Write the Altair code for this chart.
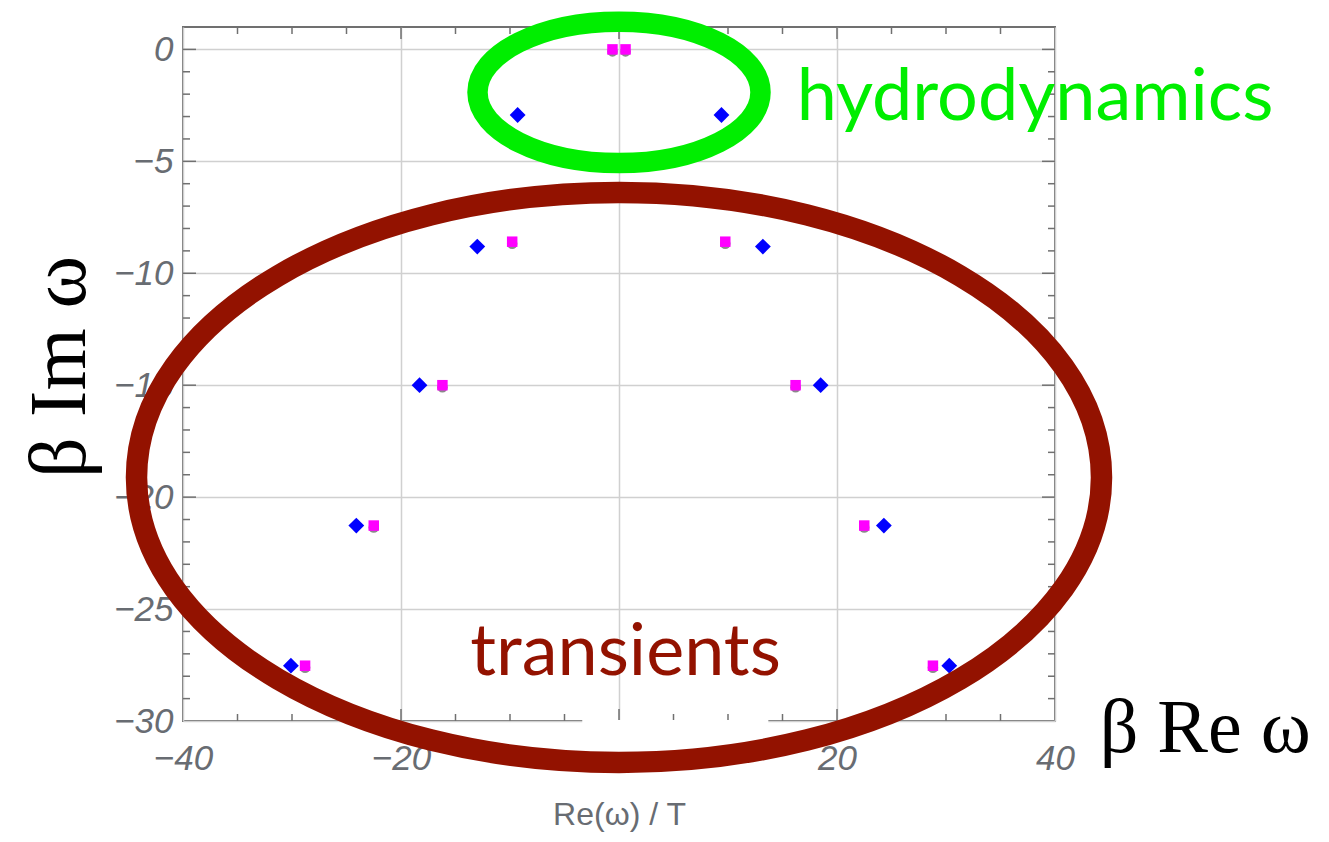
import altair as alt
import pandas as pd

# ---- data (Re(omega)/T, Im(omega)/T) ----
blue_re = [-9.3, 9.4, -13.0, 13.2, -18.3, 18.5, -24.1, 24.3, -30.1, 30.3]
blue_im = [-2.93, -2.93, -8.81, -8.81, -15.0, -15.0, -21.27, -21.27, -27.53, -27.53]
mag_re = [-0.6, 0.6, -9.8, 9.75, -16.2, 16.2, -22.5, 22.5, -28.8, 28.8]
mag_im = [0.0, 0.0, -8.59, -8.59, -15.0, -15.0, -21.27, -21.27, -27.53, -27.53]

x_labels = [-40, -20, 0, 20, 40]
y_labels = [-30, -25, -20, -15, -10, -5, 0]
x_major = [-20, 0, 20]
x_minor = [-35, -30, -25, -15, -10, -5, 5, 10, 15, 25, 30, 35]
y_major = [-25, -20, -15, -10, -5, 0]
y_minor = [v for v in range(-29, 0) if v % 5 != 0]

# annotations (data coordinates)
ann_text = ["hydrodynamics", "transients"]
ann_re = [16.3, 0.6]
ann_im = [-3.16, -27.93]
ann_color = ["#00ee00", "#931200"]
ann_align = ["left", "center"]

ell_re = [0.0, 0.0]
ell_im = [-1.92, -19.12]

# white patch pasted over the bottom frame in the original
patch_re = [-3.37, 13.7]
patch_im = [-29.96, -32.6]

W, H = 872, 694
FRAME = "#707070"
GRAY = "#686c72"

xs = alt.Scale(domain=[-40, 40], nice=False, zero=False)
ys = alt.Scale(domain=[-30, 1], nice=False, zero=False)

XAX = alt.Axis(values=x_labels, grid=True, ticks=False, domain=False,
               labelFont="Liberation Sans", labelFontSize=35, labelFontStyle="italic",
               labelColor=GRAY, labelPadding=20, labelFlush=False,
               title="Re(ω) / T", titleFont="Liberation Sans", titleFontSize=32,
               titleFontWeight="normal", titleColor=GRAY, titlePadding=23)
YAX = alt.Axis(values=y_labels, grid=True, ticks=False, domain=False,
               labelFont="Liberation Sans", labelFontSize=35, labelFontStyle="italic",
               labelColor=GRAY, labelPadding=10, labelFlush=False, title=None)


def X(field="re"):
    return alt.X(f"{field}:Q", scale=xs, axis=XAX)


def Y(field="im"):
    return alt.Y(f"{field}:Q", scale=ys, axis=YAX)


blue = pd.DataFrame({"re": blue_re, "im": blue_im})
mag = pd.DataFrame({"re": mag_re, "im": mag_im})

shadow = alt.Chart(mag).mark_point(filled=True, shape="circle", size=110, color="#8a8a8a", opacity=1).encode(
    x=X(), y=Y(), yOffset=alt.value(2))
mag_pts = alt.Chart(mag).mark_point(filled=True, shape="square", size=110, color="#ff00ff", opacity=1).encode(
    x=X(), y=Y())
blue_pts = alt.Chart(blue).mark_point(filled=True, shape="diamond", size=250, color="#0000ff", opacity=1).encode(
    x=X(), y=Y())


def xt(vals, length, top):
    df = pd.DataFrame({"re": vals})
    return alt.Chart(df).mark_rule(color=FRAME, strokeWidth=1.5).encode(
        x=X(), y=alt.value(0 if top else H), y2=alt.value(length if top else H - length))


def yt(vals, length, left):
    df = pd.DataFrame({"im": vals})
    return alt.Chart(df).mark_rule(color=FRAME, strokeWidth=1.5).encode(
        y=Y(), x=alt.value(0 if left else W), x2=alt.value(length if left else W - length))


ticks = [xt(x_major, 12, True), xt(x_minor, 7, True), xt(x_major, 12, False), xt(x_minor, 7, False),
         yt(y_major, 13, True), yt(y_minor, 7, True), yt(y_major, 13, False), yt(y_minor, 7, False)]

patch_df = pd.DataFrame({"re": [patch_re[0]], "re2": [patch_re[1]], "im": [patch_im[0]], "im2": [patch_im[1]]})
patch = alt.Chart(patch_df).mark_rect(color="white", opacity=1).encode(
    x=X(), x2="re2:Q", y=Y(), y2="im2:Q")


def ellipse(i, rx, ry, color, sw):
    df = pd.DataFrame({"re": [ell_re[i]], "im": [ell_im[i]]})
    k = ry / rx
    path = f"M -1 0 A 1 {k:.4f} 0 1 1 1 0 A 1 {k:.4f} 0 1 1 -1 0 Z"
    return alt.Chart(df).mark_point(shape=path, size=4 * rx * rx, filled=False, stroke=color,
                                    strokeWidth=sw, opacity=1).encode(x=X(), y=Y())


green_ell = ellipse(0, 141.5, 70.7, "#00ee00", 20.5)
red_ell = ellipse(1, 482.5, 285, "#931200", 21.5)

texts = []
for t, r, i, c, a in zip(ann_text, ann_re, ann_im, ann_color, ann_align):
    df = pd.DataFrame({"re": [r], "im": [i], "t": [t]})
    texts.append(alt.Chart(df).mark_text(font="Lato", fontSize=72, color=c, align=a,
                                         baseline="alphabetic").encode(
        x=X(), y=Y(), text="t:N"))

# LaTeX-like axis labels
lab = pd.DataFrame({"re": [-49.0], "im": [-14.18], "t": ["β Im ω"]})
ylab = alt.Chart(lab).mark_text(font="Liberation Serif", fontSize=80, color="black", angle=270,
                                align="center", baseline="alphabetic").encode(
    x=X(), y=Y(), text="t:N")
lab2 = pd.DataFrame({"re": [44.1], "im": [-31.4], "t": ["β Re ω"]})
xlab = alt.Chart(lab2).mark_text(font="Liberation Serif", fontSize=76, color="black",
                                 align="left", baseline="alphabetic").encode(
    x=X(), y=Y(), text="t:N")

chart = alt.layer(shadow, mag_pts, blue_pts, *ticks, patch, green_ell, red_ell, *texts, ylab, xlab).properties(
    width=W, height=H,
    autosize=alt.AutoSizeParams(type="none"),
    padding={"left": 175, "top": 19, "right": 265, "bottom": 112},
).configure_view(stroke=FRAME, strokeWidth=2).configure_axis(gridColor="#d0d0d0", gridWidth=1.5)

chart.save("out.html", embed_options={"renderer": "svg", "actions": False})
